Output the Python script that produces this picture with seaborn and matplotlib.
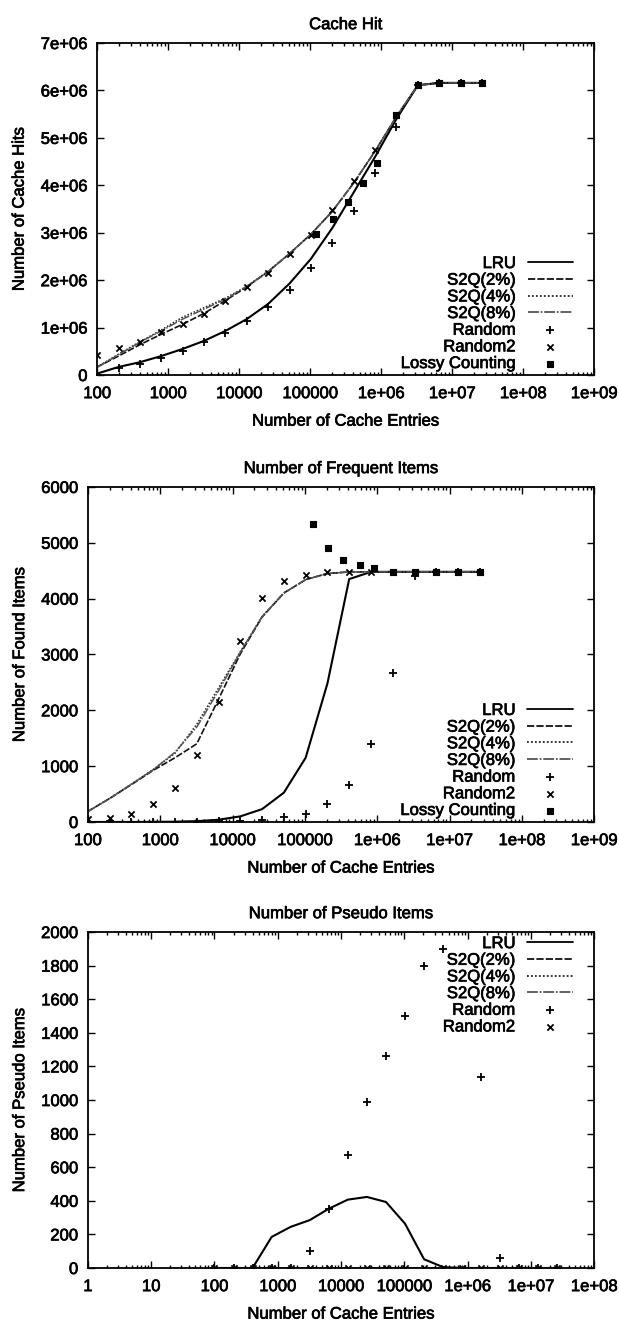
import numpy as np
import pandas as pd
import matplotlib
matplotlib.use("Agg")
import matplotlib.pyplot as plt
import matplotlib.patheffects as pe
from matplotlib.text import Text
from matplotlib.ticker import FuncFormatter, LogLocator, NullFormatter
import seaborn as sns

# ---------------- data ----------------
entries = [100, 200, 400, 800, 1600, 3200, 6400, 12800, 25600, 51200, 102400,
           204800, 409600, 819200, 1638400, 3276800, 6553600, 13107200, 26214400]

# Cache hits (millions)
hit_lru = [0.03, 0.17, 0.27, 0.40, 0.55, 0.72, 0.93, 1.18, 1.50, 1.93, 2.45,
           3.10, 3.85, 4.60, 5.40, 6.11, 6.16, 6.16, 6.16]
hit_s2q2 = [0.17, 0.40, 0.64, 0.86, 1.07, 1.30, 1.57, 1.86, 2.18, 2.56, 2.97,
            3.45, 4.05, 4.72, 5.45, 6.11, 6.16, 6.16, 6.16]
hit_s2q4 = [0.17, 0.44, 0.70, 0.95, 1.22, 1.42, 1.62, 1.87, 2.19, 2.56, 2.97,
            3.45, 4.05, 4.72, 5.45, 6.11, 6.16, 6.16, 6.16]
hit_s2q8 = [0.16, 0.43, 0.69, 0.93, 1.18, 1.39, 1.60, 1.87, 2.18, 2.56, 2.97,
            3.45, 4.05, 4.72, 5.45, 6.11, 6.16, 6.16, 6.16]
hit_random = [0.0, 0.14, 0.23, 0.35, 0.51, 0.69, 0.89, 1.14, 1.44, 1.80, 2.25,
              2.79, 3.45, 4.26, 5.23, 6.11, 6.16, 6.16, 6.16]
hit_random2 = [0.42, 0.58, 0.70, 0.90, 1.07, 1.29, 1.57, 1.85, 2.16, 2.55, 2.96,
               3.48, 4.09, 4.75, 5.48, 6.11, 6.16, 6.16, 6.16]
lossy_entries_hit = [122000, 210000, 340000, 550000, 880000, 1640000, 3280000,
                     6550000, 13100000, 26200000]
hit_lossy = [2.98, 3.28, 3.64, 4.05, 4.47, 5.48, 6.11, 6.16, 6.16, 6.16]

# Frequent items found
freq_lru = [0, 0, 0, 2, 5, 15, 40, 100, 230, 525, 1150, 2480, 4350, 4478,
            4480, 4480, 4480, 4480, 4480]
freq_s2q2 = [190, 420, 670, 925, 1150, 1400, 2200, 3010, 3670, 4100, 4340,
             4450, 4478, 4480, 4480, 4480, 4480, 4480, 4480]
freq_s2q4 = [190, 425, 680, 940, 1230, 1750, 2400, 3050, 3680, 4100, 4340,
             4450, 4478, 4480, 4480, 4480, 4480, 4480, 4480]
freq_s2q8 = [185, 420, 675, 935, 1250, 1700, 2350, 3040, 3675, 4100, 4340,
             4450, 4478, 4480, 4480, 4480, 4480, 4480, 4480]
freq_random = [0, 15, 5, 5, 5, 5, 10, 20, 30, 80, 150, 330, 657, 1391, 2669,
               4406, 4480, 4480, 4480]
freq_random2 = [60, 75, 150, 316, 615, 1206, 2150, 3242, 4012, 4316, 4424,
                4478, 4478, 4480, 4480, 4480, 4480, 4480, 4480]
lossy_entries_freq = [130000, 207000, 340000, 570000, 910000, 1640000,
                      3280000, 6550000, 13100000, 26200000]
freq_lossy = [5331, 4913, 4699, 4597, 4549, 4480, 4480, 4480, 4480, 4480]

# Pseudo items
pseudo_lru = [0, 0, 0, 185, 245, 285, 353, 407, 423, 393, 264, 52, 5, 0, 0,
              0, 0, 0, 0]
pseudo_s2q2 = [0] * 19
pseudo_s2q4 = [0] * 19
pseudo_s2q8 = [0] * 19
pseudo_random = [0, 0, 0, 0, 0, 100, 350, 670, 990, 1265, 1500, 1800, 1900,
                 np.nan, 1135, 60, 0, 0, 0]
pseudo_random2 = [0] * 19

# ---------------- style ----------------
sns.set_style("ticks")
plt.rcParams["font.family"] = ["Liberation Sans", "DejaVu Sans"]
for key in ("text.color", "axes.labelcolor", "xtick.color", "ytick.color",
            "axes.edgecolor"):
    plt.rcParams[key] = "black"
FS = 12

LINE_STYLES = {
    "LRU": dict(color="black", lw=1.5, ls="-"),
    "S2Q(2%)": dict(color="#111111", lw=1.2, ls=(0, (4, 1.2))),
    "S2Q(4%)": dict(color="#222222", lw=1.1, ls=(0, (1, 1.2))),
    "S2Q(8%)": dict(color="#555555", lw=1.1, ls=(0, (6, 1, 1, 1))),
}
POINT_STYLES = {
    "Random": dict(marker="+", s=30, linewidth=1.3),
    "Random2": dict(marker="x", s=20, linewidth=1.3),
    "Lossy Counting": dict(marker="s", s=16, linewidth=0.8),
}


def x_label_fmt(v, _pos):
    if v <= 0:
        return ""
    e = int(round(np.log10(v)))
    if e < 6:
        return str(10 ** e)
    return "1e+%02d" % e


def draw(ax, lines, points, title, ylabel, ylim, yfmt, xlim, legend_loc,
         legend_anchor):
    for name, (xs, ys) in lines.items():
        df = pd.DataFrame({"x": xs, "y": ys})
        st = LINE_STYLES[name]
        sns.lineplot(data=df, x="x", y="y", ax=ax, estimator=None, sort=False,
                     color=st["color"], linewidth=st["lw"], linestyle=st["ls"],
                     label=name, legend=False)
    for name, (xs, ys) in points.items():
        df = pd.DataFrame({"x": xs, "y": ys}).dropna()
        st = POINT_STYLES[name]
        sns.scatterplot(data=df, x="x", y="y", ax=ax, marker=st["marker"],
                        s=st["s"], color="black", edgecolor="black",
                        linewidth=st["linewidth"], label=name, legend=False,
                        clip_on=True, zorder=3)
    ax.set_xscale("log")
    ax.set_xlim(*xlim)
    ax.set_ylim(*ylim)
    ax.xaxis.set_major_locator(LogLocator(base=10, numticks=20))
    ax.xaxis.set_minor_locator(LogLocator(base=10, subs=np.arange(2, 10) * 1.0,
                                          numticks=100))
    ax.xaxis.set_minor_formatter(NullFormatter())
    ax.xaxis.set_major_formatter(FuncFormatter(x_label_fmt))
    ax.yaxis.set_major_formatter(FuncFormatter(yfmt))
    ax.tick_params(axis="both", which="both", direction="in", top=True,
                   right=True, labelsize=FS, width=1.0, colors="black")
    ax.tick_params(axis="x", which="both", pad=8)
    ax.tick_params(axis="y", which="both", pad=7)
    ax.tick_params(which="major", length=5)
    ax.tick_params(which="minor", length=2.5)
    for sp in ax.spines.values():
        sp.set_linewidth(1.3)
        sp.set_color("black")
        sp.set_visible(True)
    ax.set_title(title, fontsize=FS, pad=10)
    ax.set_xlabel("Number of Cache Entries", fontsize=FS, labelpad=9)
    ax.set_ylabel(ylabel, fontsize=FS, labelpad=10)
    leg = ax.legend(loc=legend_loc, bbox_to_anchor=legend_anchor,
                    frameon=False, markerfirst=False, fontsize=FS,
                    handlelength=2.75, handletextpad=0.7, labelspacing=0.1,
                    borderpad=0.0, borderaxespad=0.0)
    for h in leg.legend_handles:
        if h.__class__.__name__ == "Line2D":
            h.set_linewidth(1.3)
    return leg


fig = plt.figure(figsize=(6.19, 13.2), dpi=100)

ax1 = fig.add_axes([0.157, 0.7159, 0.803, 0.2515])
draw(ax1,
     {"LRU": (entries, np.array(hit_lru) * 1e6),
      "S2Q(2%)": (entries, np.array(hit_s2q2) * 1e6),
      "S2Q(4%)": (entries, np.array(hit_s2q4) * 1e6),
      "S2Q(8%)": (entries, np.array(hit_s2q8) * 1e6)},
     {"Random": (entries, np.array(hit_random) * 1e6),
      "Random2": (entries, np.array(hit_random2) * 1e6),
      "Lossy Counting": (lossy_entries_hit, np.array(hit_lossy) * 1e6)},
     "Cache Hit", "Number of Cache Hits", (0, 7e6),
     lambda v, p: "0" if v == 0 else "%de+06" % round(v / 1e6),
     (100, 1e9), "lower right", (0.958, 0.012))
ax1.set_yticks(np.arange(0, 7.01e6, 1e6))

ax2 = fig.add_axes([0.142, 0.3773, 0.818, 0.2538])
draw(ax2,
     {"LRU": (entries, freq_lru),
      "S2Q(2%)": (entries, freq_s2q2),
      "S2Q(4%)": (entries, freq_s2q4),
      "S2Q(8%)": (entries, freq_s2q8)},
     {"Random": (entries, freq_random),
      "Random2": (entries, freq_random2),
      "Lossy Counting": (lossy_entries_freq, freq_lossy)},
     "Number of Frequent Items", "Number of Found Items", (0, 6000),
     lambda v, p: "%d" % v, (100, 1e9), "lower right", (0.958, 0.012))
ax2.set_yticks(np.arange(0, 6001, 1000))

ax3 = fig.add_axes([0.142, 0.0394, 0.818, 0.2545])
draw(ax3,
     {"LRU": (entries, pseudo_lru),
      "S2Q(2%)": (entries, pseudo_s2q2),
      "S2Q(4%)": (entries, pseudo_s2q4),
      "S2Q(8%)": (entries, pseudo_s2q8)},
     {"Random": (entries, pseudo_random),
      "Random2": (entries, pseudo_random2)},
     "Number of Pseudo Items", "Number of Pseudo Items", (0, 2000),
     lambda v, p: "%d" % v, (1, 1e8), "upper right", (0.958, 0.988))
ax3.set_yticks(np.arange(0, 2001, 200))

# slightly heavier glyphs, like the printed Helvetica
for t in fig.findobj(Text):
    t.set_path_effects([pe.withStroke(linewidth=0.5, foreground="black")])

fig.savefig("out.png", dpi=100)
